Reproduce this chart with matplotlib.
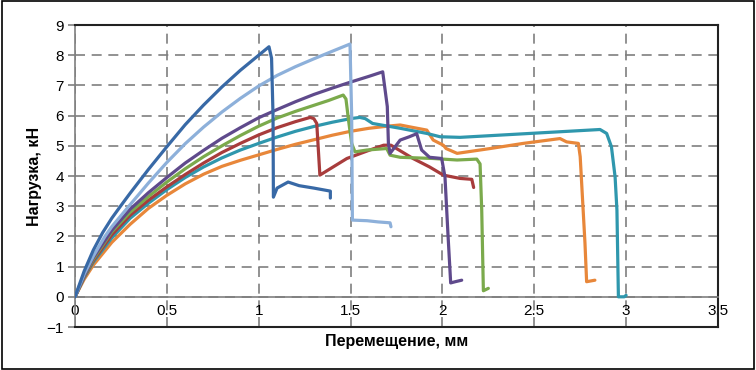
import matplotlib
matplotlib.use("Agg")
import matplotlib.pyplot as plt
from matplotlib.patches import Rectangle

plt.rcParams['font.family'] = ['Liberation Sans', 'DejaVu Sans']

# Кривые нагрузка-перемещение
dark_x = [0, 0.05, 0.1, 0.15, 0.2, 0.25, 0.3, 0.4, 0.5, 0.6, 0.7, 0.8, 0.9, 1.0, 1.056,
          1.07, 1.078, 1.08, 1.10, 1.16, 1.22, 1.30, 1.39, 1.39]
dark_y = [0, 0.85, 1.55, 2.12, 2.6, 3.02, 3.43, 4.22, 4.97, 5.7, 6.35, 6.95, 7.5, 8.0, 8.28,
          7.9, 6.0, 3.3, 3.6, 3.8, 3.68, 3.6, 3.5, 3.27]

light_x = [0, 0.05, 0.1, 0.163, 0.2, 0.3, 0.4, 0.5, 0.6, 0.7, 0.8, 0.9, 1.0, 1.1, 1.2, 1.3,
           1.4, 1.497, 1.506, 1.51, 1.59, 1.65, 1.715, 1.72]
light_y = [0, 0.75, 1.35, 2.0, 2.32, 3.05, 3.77, 4.45, 5.07, 5.62, 6.12, 6.57, 6.98, 7.33, 7.62,
           7.88, 8.13, 8.37, 6.0, 2.54, 2.52, 2.48, 2.45, 2.32]

purple_x = [0, 0.05, 0.1, 0.2, 0.3, 0.4, 0.5, 0.6, 0.7, 0.8, 0.9, 1.0, 1.1, 1.2, 1.3, 1.4,
            1.5, 1.6, 1.675, 1.70, 1.706, 1.715, 1.77, 1.82, 1.86, 1.887, 1.93, 1.996,
            2.014, 2.03, 2.045, 2.07, 2.105]
purple_y = [0, 0.7, 1.3, 2.2, 2.9, 3.45, 3.95, 4.43, 4.85, 5.25, 5.6, 5.93, 6.2, 6.46, 6.7, 6.91,
            7.11, 7.3, 7.45, 6.3, 5.08, 4.75, 5.19, 5.3, 5.4, 4.86, 4.62, 4.58,
            3.97, 2.1, 0.46, 0.5, 0.55]

green_x = [0, 0.05, 0.1, 0.2, 0.3, 0.4, 0.5, 0.6, 0.7, 0.8, 0.9, 1.0, 1.1, 1.2, 1.28, 1.38,
           1.46, 1.475, 1.49, 1.506, 1.524, 1.588, 1.697, 1.715, 1.77, 1.95, 2.08, 2.187,
           2.205, 2.214, 2.223, 2.25]
green_y = [0, 0.68, 1.25, 2.15, 2.8, 3.32, 3.8, 4.24, 4.64, 5.0, 5.34, 5.65, 5.92, 6.14, 6.3, 6.5,
           6.68, 6.55, 5.8, 5.08, 4.8, 4.86, 4.91, 4.69, 4.62, 4.58, 4.53, 4.56,
           4.4, 2.87, 0.2, 0.28]

red_x = [0, 0.05, 0.1, 0.2, 0.3, 0.4, 0.5, 0.6, 0.7, 0.8, 0.9, 1.0, 1.1, 1.2, 1.28, 1.30,
         1.316, 1.333, 1.48, 1.6, 1.68, 1.72, 1.75, 1.84, 1.93, 2.005, 2.096, 2.16, 2.17]
red_y = [0, 0.66, 1.2, 2.05, 2.7, 3.2, 3.64, 4.05, 4.43, 4.78, 5.08, 5.36, 5.6, 5.8, 5.94, 5.9,
         5.74, 4.03, 4.58, 4.85, 5.02, 5.02, 4.91, 4.58, 4.3, 4.03, 3.92, 3.89, 3.62]

teal_x = [0, 0.05, 0.1, 0.2, 0.3, 0.4, 0.5, 0.6, 0.7, 0.8, 0.9, 1.0, 1.1, 1.2, 1.3, 1.4, 1.5,
          1.55, 1.58, 1.62, 1.77, 1.915, 1.987, 2.096, 2.477, 2.858, 2.894, 2.92, 2.94,
          2.95, 2.958, 2.99, 3.0]
teal_y = [0, 0.64, 1.15, 1.95, 2.6, 3.1, 3.55, 3.95, 4.3, 4.6, 4.86, 5.08, 5.29, 5.48, 5.64,
          5.78, 5.9, 5.94, 5.9, 5.74, 5.58, 5.41, 5.3, 5.28, 5.41, 5.54, 5.41, 4.97, 3.97,
          2.87, 0.0, 0.0, 0.05]

orange_x = [0, 0.05, 0.1, 0.2, 0.3, 0.4, 0.5, 0.6, 0.7, 0.8, 0.9, 1.0, 1.1, 1.2, 1.3, 1.4,
            1.5, 1.6, 1.7, 1.77, 1.82, 1.915, 1.95, 2.005, 2.02, 2.08, 2.26, 2.44, 2.64,
            2.676, 2.74, 2.75, 2.776, 2.785, 2.83]
orange_y = [0, 0.58, 1.05, 1.8, 2.4, 2.93, 3.36, 3.74, 4.06, 4.32, 4.52, 4.7, 4.88, 5.05, 5.2,
            5.35, 5.48, 5.58, 5.65, 5.69, 5.63, 5.52, 5.19, 5.02, 4.91, 4.75, 4.91, 5.08,
            5.24, 5.13, 5.08, 4.64, 1.78, 0.5, 0.55]

series = [
    (orange_x, orange_y, '#E8873A'),
    (teal_x, teal_y, '#2F97AD'),
    (red_x, red_y, '#A83C3C'),
    (green_x, green_y, '#7BAA4C'),
    (purple_x, purple_y, '#5F4A8C'),
    (light_x, light_y, '#8DB0DA'),
    (dark_x, dark_y, '#3869A6'),
]

x_ticks = [0, 0.5, 1, 1.5, 2, 2.5, 3, 3.5]
x_labels = ['0', '0.5', '1', '1.5', '2', '2.5', '3', '3.5']
y_ticks = [-1, 0, 1, 2, 3, 4, 5, 6, 7, 8, 9]

fig = plt.figure(figsize=(7.56, 3.70), dpi=100)
ax = fig.add_axes([0.0992, 0.1162, 0.8505, 0.8162])

for xs, ys, c in series:
    ax.plot(xs, ys, color=c, lw=2.3, solid_joinstyle='round', solid_capstyle='round', zorder=3)

ax.set_xlim(0, 3.5)
ax.set_ylim(-1, 9)
ax.set_xticks(x_ticks)
ax.set_xticklabels(x_labels)
ax.set_yticks(y_ticks)

ax.set_axisbelow(True)
ax.grid(True, color='#7f7f7f', lw=1.2, linestyle=(0, (6, 4)))

# ось X проходит через ноль, рамка снизу на -1
ax.spines['bottom'].set_position(('data', 0))
ax.spines['bottom'].set_color('#7f7f7f')
ax.spines['bottom'].set_linewidth(1.2)
ax.spines['left'].set_color('#7f7f7f')
ax.spines['left'].set_linewidth(1.2)
ax.spines['top'].set_color('#222222')
ax.spines['top'].set_linewidth(1.5)
ax.spines['right'].set_color('#222222')
ax.spines['right'].set_linewidth(1.5)
ax.axhline(-1, color='#222222', lw=1.5, zorder=4, clip_on=False)

ax.tick_params(axis='x', length=0, pad=5, labelsize=11)
ax.tick_params(axis='y', length=5, width=1.2, color='#7f7f7f', pad=3, labelsize=11)

ax.set_xlabel('Перемещение, мм', fontsize=11.5, fontweight='bold', labelpad=12)
ax.set_ylabel('Нагрузка, кН', fontsize=11.5, fontweight='bold', labelpad=3)

fig.patches.append(Rectangle((0.003, 0.004), 0.994, 0.992, transform=fig.transFigure,
                             fill=False, edgecolor='black', lw=1.2))

fig.savefig('out.png', dpi=100)
